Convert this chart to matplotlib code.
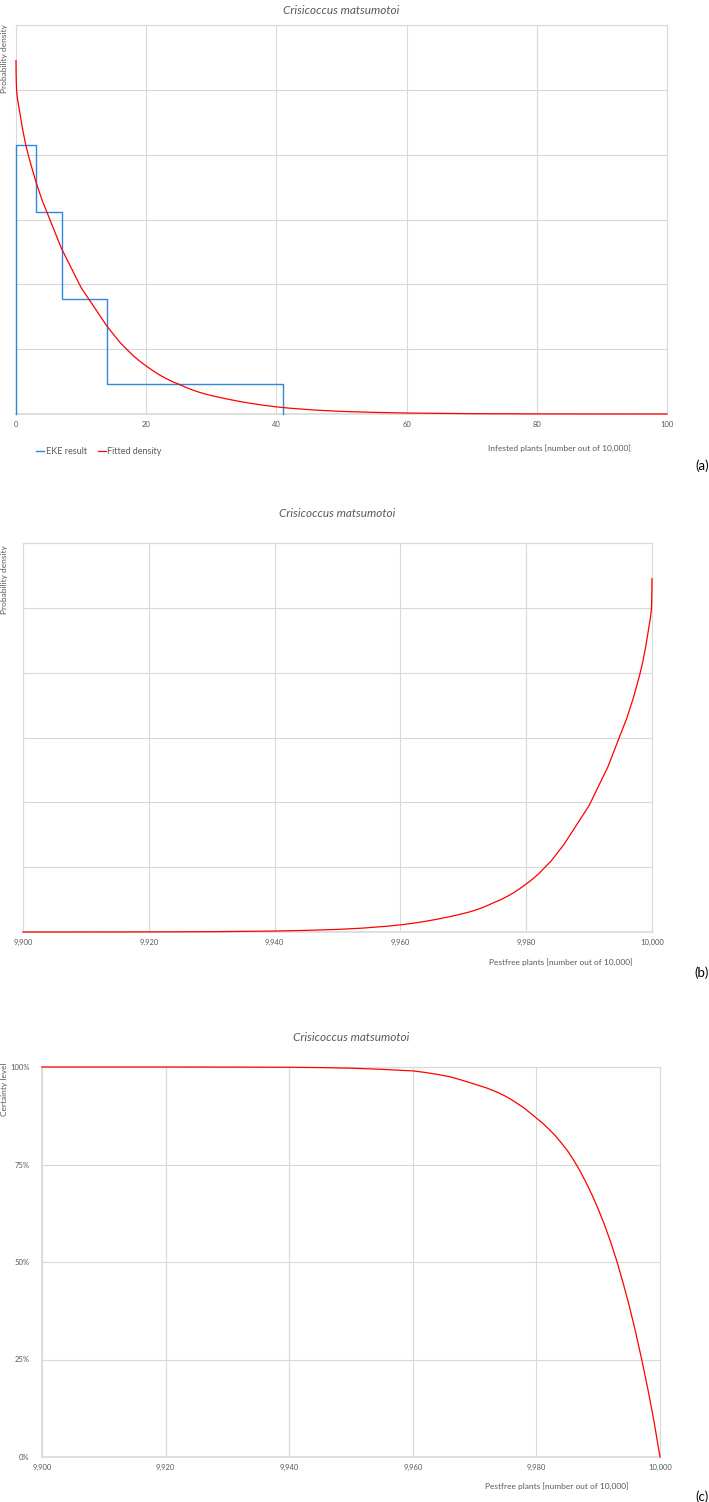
import matplotlib
matplotlib.use("Agg")
import matplotlib.pyplot as plt
import numpy as np

plt.rcParams['font.family'] = ['Lato', 'DejaVu Sans']

# EKE result (quartile bins of infested plants, density per bin)
eke_edges = [0, 3, 7, 14, 41]
eke_density = [0.083, 0.0624, 0.0356, 0.0092]

# fitted density
infested = [0, 0.02, 0.05, 0.1, 0.25, 0.5, 0.75, 1, 1.5, 2, 2.5, 3, 3.5, 4, 4.5, 5,
            5.5, 6, 6.5, 7, 7.5, 8, 9, 10, 11, 12, 13, 14, 15, 16, 17, 18, 19, 20,
            21, 22, 23, 24, 25, 26, 27, 28, 29, 30, 32, 34, 36, 38, 40, 42, 44, 46,
            48, 50, 55, 60, 65, 70, 80, 90, 100]
fit_density = [0.109, 0.105, 0.102, 0.0995, 0.097, 0.094, 0.091, 0.088, 0.083, 0.079,
               0.0755, 0.072, 0.069, 0.066, 0.0635, 0.061, 0.0585, 0.056, 0.0535,
               0.051, 0.049, 0.047, 0.043, 0.039, 0.036, 0.033, 0.030, 0.027, 0.0245,
               0.022, 0.020, 0.018, 0.0163, 0.0148, 0.0134, 0.0121, 0.0110, 0.0100,
               0.0092, 0.0083, 0.0075, 0.0068, 0.0062, 0.0057, 0.0048, 0.0040, 0.0033,
               0.0027, 0.0022, 0.0018, 0.0015, 0.0012, 0.0010, 0.0008, 0.0005, 0.0003,
               0.0002, 0.0001, 0.00003, 0.00001, 0.0]

# certainty level curve
pestfree_c = [9900, 9920, 9930, 9940, 9945, 9950, 9955, 9960, 9962, 9964, 9966, 9968,
              9970, 9972, 9974, 9975, 9976, 9978, 9980, 9981, 9982, 9983, 9984, 9985,
              9986, 9987, 9988, 9989, 9990, 9991, 9992, 9993, 9994, 9995, 9996, 9997,
              9998, 9999, 10000]
certainty = [1.0, 1.0, 0.9998, 0.9993, 0.9985, 0.997, 0.994, 0.990, 0.986, 0.981,
             0.975, 0.966, 0.956, 0.946, 0.933, 0.925, 0.916, 0.895, 0.869, 0.856,
             0.841, 0.825, 0.806, 0.786, 0.762, 0.735, 0.705, 0.672, 0.636, 0.596,
             0.552, 0.503, 0.448, 0.389, 0.324, 0.253, 0.177, 0.094, 0.0]

title = "Crisicoccus matsumotoi"
grey = "#595959"
gridc = "#d9d9d9"
blue = "#2e86de"
red = "#ff0000"

W, H = 709, 1502
fig = plt.figure(figsize=(W / 100, H / 100), dpi=100)


def box(l, r, t, b):
    return [l / W, 1 - b / H, (r - l) / W, (b - t) / H]


def style(ax):
    ax.grid(True, color=gridc, linewidth=0.8)
    ax.set_axisbelow(True)
    for s in ax.spines.values():
        s.set_color(gridc)
        s.set_linewidth(0.8)
    ax.spines['bottom'].set_linewidth(1.2)
    ax.tick_params(length=0, labelsize=5.5, labelcolor=grey, pad=5)


def ftext(x, y, s, **kw):
    fig.text(x / W, 1 - y / H, s, **kw)


# ---- (a)
ax1 = fig.add_axes(box(16, 667, 25, 414))
style(ax1)
sx = np.repeat(eke_edges, 2)
sy = np.concatenate([[0], np.repeat(eke_density, 2), [0]])
ax1.plot(sx, sy, color=blue, linewidth=1.0, label="EKE result", zorder=3, clip_on=False)
ax1.plot(infested, fit_density, color=red, linewidth=0.9, label="Fitted density",
         zorder=4, clip_on=False)
ax1.set_xlim(0, 100)
ax1.set_ylim(0, 0.12)
ax1.set_xticks(np.arange(0, 101, 20))
ax1.set_yticks(np.arange(0, 0.121, 0.02))
ax1.set_yticklabels([])
ax1.set_title(title, fontsize=8.5, style='italic', color=grey, pad=8)
ftext(4.5, 24, "Probability density", rotation=90, ha='center', va='top', fontsize=6, color=grey)
ftext(631, 448, "Infested plants [number out of 10,000]", ha='right', va='center', fontsize=6, color=grey)
ftext(709, 466, "(a)", ha='right', va='center', fontsize=9.5, color='black')
fig.legend(*ax1.get_legend_handles_labels(), loc='center left', bbox_to_anchor=(28 / W, 1 - 452 / H),
           ncol=2, frameon=False, fontsize=6.5, handlelength=0.9, handletextpad=0.15,
           columnspacing=1.2, labelcolor=grey)

# ---- (b)
pestfree_b = [10000 - v for v in infested]
ax2 = fig.add_axes(box(23, 652, 543, 932))
style(ax2)
ax2.plot(pestfree_b, fit_density, color=red, linewidth=0.9, zorder=4, clip_on=False)
ax2.set_xlim(9900, 10000)
ax2.set_ylim(0, 0.12)
ax2.set_xticks(np.arange(9900, 10001, 20))
ax2.set_xticklabels([f"{v:,}" for v in range(9900, 10001, 20)])
ax2.set_yticks(np.arange(0, 0.121, 0.02))
ax2.set_yticklabels([])
ax2.set_title(title, fontsize=8.5, style='italic', color=grey, pad=19)
ftext(4.5, 545, "Probability density", rotation=90, ha='center', va='top', fontsize=6, color=grey)
ftext(633, 962, "Pestfree plants [number out of 10,000]", ha='right', va='center', fontsize=6, color=grey)
ftext(709, 973, "(b)", ha='right', va='center', fontsize=9.5, color='black')

# ---- (c)
ax3 = fig.add_axes(box(42, 660, 1067, 1457))
style(ax3)
ax3.plot(pestfree_c, certainty, color=red, linewidth=0.9, zorder=4, clip_on=False)
ax3.set_xlim(9900, 10000)
ax3.set_ylim(0, 1)
ax3.set_xticks(np.arange(9900, 10001, 20))
ax3.set_xticklabels([f"{v:,}" for v in range(9900, 10001, 20)])
ax3.set_yticks([0, 0.25, 0.5, 0.75, 1.0])
ax3.set_yticklabels(["0%", "25%", "50%", "75%", "100%"])
ax3.tick_params(axis='y', pad=9)
ax3.spines['left'].set_linewidth(1.2)
ax3.set_title(title, fontsize=8.5, style='italic', color=grey, pad=19)
ftext(4.5, 1062, "Certainty level", rotation=90, ha='center', va='top', fontsize=6, color=grey)
ftext(629, 1486, "Pestfree plants [number out of 10,000]", ha='right', va='center', fontsize=6, color=grey)
ftext(709, 1497, "(c)", ha='right', va='center', fontsize=9.5, color='black')

fig.savefig("out.png", dpi=100)
